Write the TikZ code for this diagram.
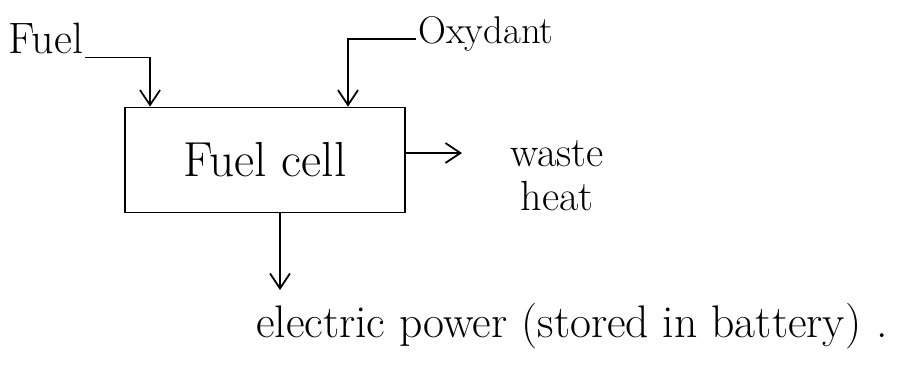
\documentclass[tikz,border=0pt]{standalone}
\usepackage{fontspec}
\usepackage{tikz}
\usetikzlibrary{arrows.meta, positioning}

\begin{document}
\begin{tikzpicture}[
    x=0.02cm, y=-0.02cm,
    font=\fontsize{22}{25}\selectfont,
    process/.style={rectangle,draw,line width=1pt,minimum width=5.6cm,minimum height=2.1cm,align=center},
    label/.style={inner sep=1pt,align=center},
    arrow/.style={-{Straight Barb[length=3mm,width=4mm]},line width=1pt}
]
\useasboundingbox (0,0) rectangle (901,373);
\node[process] (cell) at (265,160) {\fontsize{28}{32}\selectfont Fuel cell};
\node[label,font=\fontsize{25}{28}\selectfont] (fuel) at (46,38) {Fuel};
\node[label] (oxy) at (486,34) {Oxydant};
\node[label,font=\fontsize{24}{25}\selectfont] (heat) at (557,176) {waste\\heat};
\node[label,font=\fontsize{26}{30}\selectfont] (power) at (572,326) {electric power (stored in battery)\,\,.};
\coordinate (heatout) at (462,153);
\coordinate (powerout) at (280,290);
% inputs
\draw[arrow] ([yshift=-0.04cm]fuel.south east) -| ([xshift=-2.3cm]cell.north);
\draw[arrow] ([yshift=-0.1cm]oxy.west) -| ([xshift=1.66cm]cell.north);
% outputs
\draw[arrow] (cell.east |- heatout) -- (heatout);
\draw[arrow] (cell.south -| powerout) -- (powerout);
\end{tikzpicture}
\end{document}
